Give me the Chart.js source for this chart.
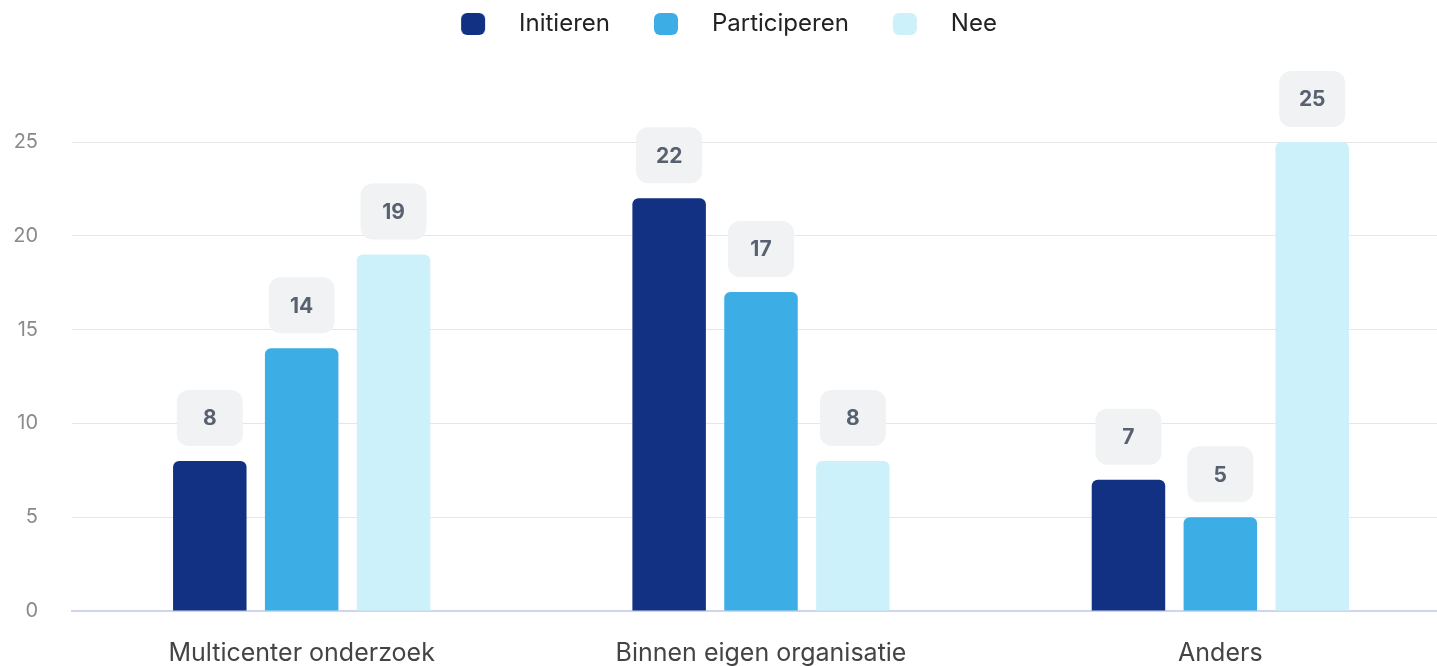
<!DOCTYPE html>
<html>
<head>
<meta charset="utf-8">
<script src="https://cdn.jsdelivr.net/npm/chart.js@4"></script>
<style>
  html, body { margin: 0; padding: 0; background: #fff; overflow: hidden; }
  #wrap { width: 1450px; height: 666px; }
</style>
</head>
<body>
<div id="wrap"><canvas id="chart"></canvas></div>
<script>
// data
const categories = ['Multicenter onderzoek', 'Binnen eigen organisatie', 'Anders'];
const seriesNames = ['Initieren', 'Participeren', 'Nee'];
const initieren = [8, 22, 7];
const participeren = [14, 17, 5];
const nee = [19, 8, 25];
const yMax = 25;
const yStep = 5;

const colors = ['#123183', '#3dade6', '#cdf1fa'];

// legend marker: rounded square with empty space around it
function makeMarker(color) {
    const c = document.createElement('canvas');
    c.width = 80;
    c.height = 22;
    const g = c.getContext('2d');
    g.fillStyle = color;
    g.beginPath();
    g.roundRect(34, 0, 24, 22, 6);
    g.fill();
    return c;
}
const markers = colors.map(makeMarker);

// grey boxes with the value above each bar
const valueBoxes = {
    id: 'valueBoxes',
    afterDatasetsDraw(chart) {
        const ctx = chart.ctx;
        ctx.save();
        chart.data.datasets.forEach((ds, i) => {
            const meta = chart.getDatasetMeta(i);
            meta.data.forEach((bar, j) => {
                const w = 66, h = 56;
                const x = bar.x - w / 2;
                const y = bar.y - 15 - h;
                ctx.fillStyle = '#f0f2f3';
                ctx.beginPath();
                ctx.roundRect(x, y, w, h, 12);
                ctx.fill();
                ctx.fillStyle = '#586170';
                ctx.font = 'bold 21px Inter';
                ctx.textAlign = 'center';
                ctx.textBaseline = 'middle';
                ctx.fillText(ds.data[j], bar.x, y + h / 2 + 1);
            });
        });
        ctx.restore();
    }
};

// legend gets a fixed height so the plot starts lower
const legendSpace = {
    id: 'legendSpace',
    beforeInit(chart) {
        const fit = chart.legend.fit;
        chart.legend.fit = function () {
            fit.bind(chart.legend)();
            this.height = 140;
        };
    },
    afterLayout(chart) {
        chart.legend.right -= 26;
    }
};

const ctx = document.getElementById('chart').getContext('2d');
const myChart = new Chart(ctx, {
    type: 'bar',
    data: {
        labels: categories,
        datasets: [
            { label: seriesNames[0], data: initieren, backgroundColor: colors[0] },
            { label: seriesNames[1], data: participeren, backgroundColor: colors[1] },
            { label: seriesNames[2], data: nee, backgroundColor: colors[2] }
        ]
    },
    options: {
        responsive: true,
        maintainAspectRatio: false,
        animation: false,
        layout: { padding: { top: 2, bottom: 0, left: 0, right: 0 } },
        datasets: {
            bar: {
                categoryPercentage: 0.6,
                barPercentage: 0.8,
                borderRadius: 6
            }
        },
        plugins: {
            tooltip: { enabled: false },
            legend: {
                position: 'top',
                labels: {
                    usePointStyle: true,
                    pointStyleWidth: 80,
                    padding: 10,
                    color: '#222',
                    font: { family: 'Inter', size: 24 },
                    generateLabels(chart) {
                        const items = Chart.defaults.plugins.legend.labels.generateLabels(chart);
                        items.forEach((it, i) => { it.pointStyle = markers[i]; });
                        return items;
                    }
                }
            }
        },
        scales: {
            x: {
                afterFit(scale) { scale.height = 55; },
                grid: { display: false },
                border: { display: true, color: '#cdd6ec', width: 2 },
                ticks: {
                    padding: 19,
                    maxRotation: 0,
                    color: '#444',
                    font: { family: 'Inter', size: 25 }
                }
            },
            y: {
                beginAtZero: true,
                max: yMax,
                afterFit(scale) { scale.width = 72; },
                grid: { color: '#e6e6e6', drawTicks: false },
                border: { display: false },
                ticks: {
                    stepSize: yStep,
                    padding: 34,
                    color: '#8a8a8a',
                    font: { family: 'Inter', size: 20 }
                }
            }
        }
    },
    plugins: [valueBoxes, legendSpace]
});
</script>
</body>
</html>
